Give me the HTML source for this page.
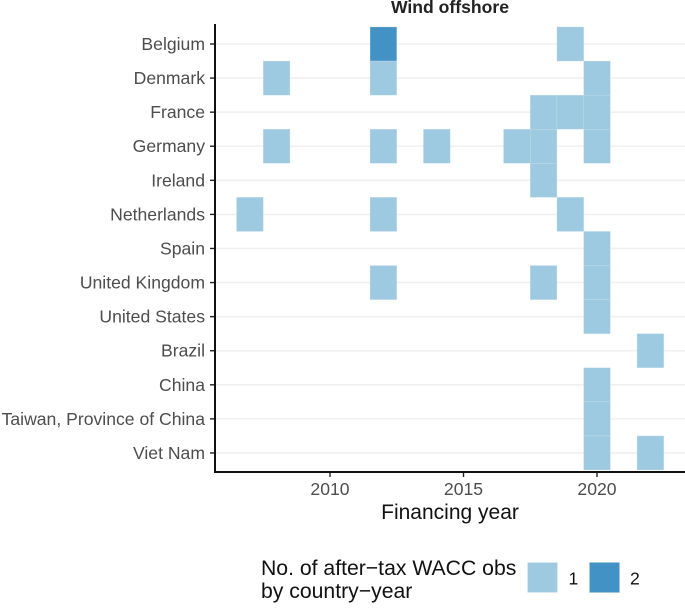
<!DOCTYPE html>
<html>
<head>
<meta charset="utf-8">
<style>
html,body{margin:0;padding:0;background:#fff;}
svg{display:block;font-family:"Liberation Sans",sans-serif;}
</style>
</head>
<body>
<svg id="chart" width="685" height="610" viewBox="0 0 685 610">
<text x="450" y="13" text-anchor="middle" font-size="17.6" font-weight="bold" fill="#222">Wind offshore</text>
<text x="450" y="519" text-anchor="middle" font-size="21" fill="#111">Financing year</text>
<text x="261" y="575" font-size="21.2" fill="#111">No. of after−tax WACC obs</text>
<text x="261" y="598" font-size="21.2" fill="#111">by country−year</text>
<rect x="527.5" y="562.5" width="30" height="30" fill="#9ecae1" stroke="#deebf7" stroke-width="0.6"></rect>
<text x="568.5" y="584.5" font-size="17.6" fill="#111">1</text>
<rect x="589.5" y="562.5" width="30" height="30" fill="#4292c6" stroke="#9ecae1" stroke-width="0.6"></rect>
<text x="630" y="584.5" font-size="17.6" fill="#111">2</text>
<g id="grid"></g>
<g id="tiles"></g>
<g id="axes"></g>
</svg>
<script>
const countries = ["Belgium","Denmark","France","Germany","Ireland","Netherlands","Spain","United Kingdom","United States","Brazil","China","Taiwan, Province of China","Viet Nam"];
const xTicks = [2010,2015,2020];
const tileCountry = ["Belgium","Belgium","Denmark","Denmark","Denmark","France","France","France","Germany","Germany","Germany","Germany","Germany","Germany","Ireland","Netherlands","Netherlands","Netherlands","Spain","United Kingdom","United Kingdom","United Kingdom","United States","Brazil","China","Taiwan, Province of China","Viet Nam","Viet Nam"];
const tileYear = [2012,2019,2008,2012,2020,2018,2019,2020,2008,2012,2014,2017,2018,2020,2018,2007,2012,2019,2020,2012,2018,2020,2020,2022,2020,2020,2020,2022];
const tileCount = [2,1,1,1,1,1,1,1,1,1,1,1,1,1,1,1,1,1,1,1,1,1,1,1,1,1,1,1];

const NS = "http://www.w3.org/2000/svg";
const xScale = y => 330 + (y - 2010) * 26.7;
const yScale = c => 44 + countries.indexOf(c) * 34.08;
const bw = 26.7, bh = 34.08;
const colorOf = n => n >= 2 ? "#4292c6" : "#9ecae1";
function mk(tag, parent){
  const el = document.createElementNS(NS, tag);
  document.getElementById(parent).appendChild(el);
  return el;
}
countries.forEach(c => {
  const yy = yScale(c);
  const g = mk("line", "grid");
  
  
  g.setAttribute("x1", 216); g.setAttribute("x2", 685);
  g.setAttribute("y1", yy); g.setAttribute("y2", yy);
  g.setAttribute("stroke", "#f0f0f0"); g.setAttribute("stroke-width", 1.6);
  const t = mk("line", "axes");
  
  
  t.setAttribute("x1", 210); t.setAttribute("x2", 215);
  t.setAttribute("y1", yy); t.setAttribute("y2", yy);
  t.setAttribute("stroke", "#222"); t.setAttribute("stroke-width", 1.4);
  const l = mk("text", "axes");
  
  
  l.setAttribute("x", 205); l.setAttribute("y", yy + 6);
  l.setAttribute("text-anchor", "end"); l.setAttribute("font-size", 17.6);
  l.setAttribute("fill", "#4d4d4d");
  l.textContent = c;
});
tileYear.forEach((yr, i) => {
  const r = mk("rect", "tiles");
  
  
  r.setAttribute("x", xScale(yr) - bw / 2);
  r.setAttribute("y", yScale(tileCountry[i]) - bh / 2);
  r.setAttribute("width", bw);
  r.setAttribute("height", bh);
  r.setAttribute("fill", colorOf(tileCount[i]));
  r.setAttribute("stroke", "#c9e0ee");
  r.setAttribute("stroke-width", 0.3);
});
xTicks.forEach(v => {
  const xx = xScale(v);
  const t = mk("line", "axes");
  
  
  t.setAttribute("x1", xx); t.setAttribute("x2", xx);
  t.setAttribute("y1", 472); t.setAttribute("y2", 477);
  t.setAttribute("stroke", "#222"); t.setAttribute("stroke-width", 1.4);
  const l = mk("text", "axes");
  
  
  l.setAttribute("x", xx); l.setAttribute("y", 495);
  l.setAttribute("text-anchor", "middle"); l.setAttribute("font-size", 17.6);
  l.setAttribute("fill", "#4d4d4d");
  l.textContent = v;
});
const ya = mk("line", "axes");


ya.setAttribute("x1", 215); ya.setAttribute("x2", 215);
ya.setAttribute("y1", 24); ya.setAttribute("y2", 473);
ya.setAttribute("stroke", "#111"); ya.setAttribute("stroke-width", 2);
const xa = mk("line", "axes");


xa.setAttribute("x1", 214); xa.setAttribute("x2", 685);
xa.setAttribute("y1", 472); xa.setAttribute("y2", 472);
xa.setAttribute("stroke", "#111"); xa.setAttribute("stroke-width", 2);
</script>
</body>
</html>
